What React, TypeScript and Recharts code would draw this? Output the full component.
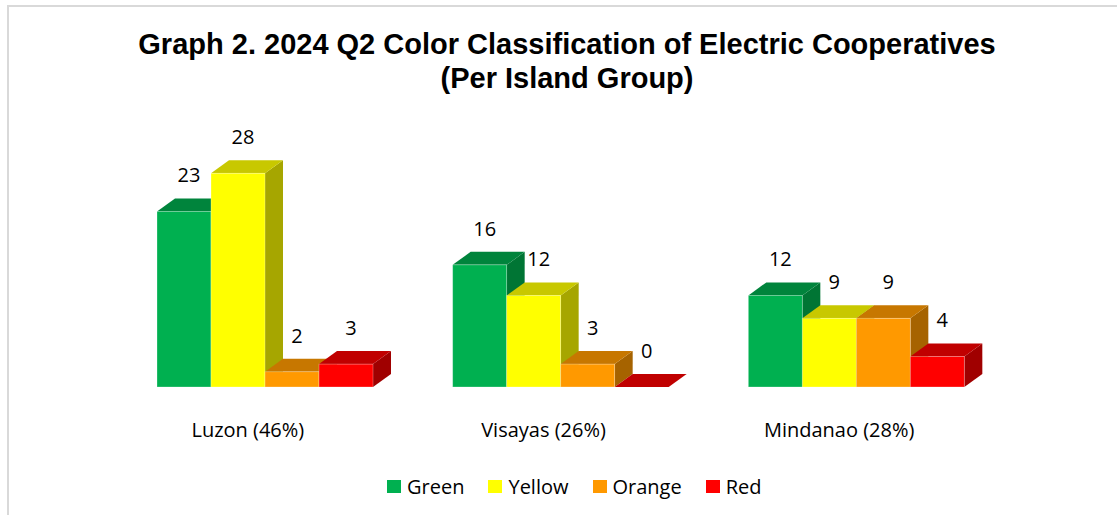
import React from 'react';
import { BarChart, Bar, XAxis, YAxis, LabelList } from 'recharts';

const islands = ['Luzon (46%)', 'Visayas (26%)', 'Mindanao (28%)'];
const green = [23, 16, 12];
const yellow = [28, 12, 9];
const orange = [2, 3, 9];
const red = [3, 0, 4];

const seriesNames = ['Green', 'Yellow', 'Orange', 'Red'];

const data = islands.map((name, i) => ({
  name,
  Green: green[i],
  Yellow: yellow[i],
  Orange: orange[i],
  Red: red[i],
}));

// front / top / side shades for the 3D look
const shades: Record<string, { front: string; top: string; side: string }> = {
  Green: { front: '#00B050', top: '#00843C', side: '#007534' },
  Yellow: { front: '#FFFF00', top: '#C8C800', side: '#A6A600' },
  Orange: { front: '#FF9900', top: '#C77700', side: '#A66300' },
  Red: { front: '#FF0000', top: '#C00000', side: '#A00000' },
};

const DX = 18;
const DY = 13;
const FONT = '"Open Sans", sans-serif';

const make3DBar = (key: string) => (props: any) => {
  const { x, y, width, height } = props;
  const c = shades[key];
  const h = Math.max(height || 0, 0);
  const top = `${x},${y} ${x + DX},${y - DY} ${x + width + DX},${y - DY} ${x + width},${y}`;
  const side = `${x + width},${y} ${x + width + DX},${y - DY} ${x + width + DX},${y + h - DY} ${x + width},${y + h}`;
  return (
    <g>
      {h > 0 && <polygon points={side} fill={c.side} />}
      <polygon points={top} fill={c.top} />
      {h > 0 && (
        <rect x={x} y={y} width={width} height={h} fill={c.front} stroke="rgba(255,255,255,0.35)" strokeWidth={0.8} />
      )}
    </g>
  );
};

const ValueLabel = (props: any) => {
  const { x, y, width, value } = props;
  return (
    <text x={x + width / 2 + 5} y={y - 29} textAnchor="middle" fontFamily={FONT} fontSize={20} fill="#000">
      {value}
    </text>
  );
};

const IslandTick = (props: any) => {
  const { x, y, payload } = props;
  return (
    <text x={x - 17} y={y + 50} textAnchor="middle" fontFamily={FONT} fontSize={20} fill="#000">
      {payload.value}
    </text>
  );
};

const LegendBox = () => (
  <div
    style={{
      position: 'absolute',
      left: 387,
      top: 473,
      display: 'flex',
      alignItems: 'center',
      fontFamily: FONT,
      fontSize: 20,
      color: '#000',
    }}
  >
    {seriesNames.map((n) => (
      <div key={n} style={{ display: 'flex', alignItems: 'center', marginRight: 24 }}>
        <span style={{ display: 'inline-block', width: 14, height: 13, background: shades[n].front, marginRight: 6 }} />
        <span>{n}</span>
      </div>
    ))}
  </div>
);

export default function App() {
  return (
    <div style={{ position: 'absolute', left: 0, top: 0, width: 1117, height: 515, background: '#fff', overflow: 'hidden' }}>
      <div style={{ position: 'absolute', left: 7, top: 5, right: 0, height: 2, background: '#d9d9d9' }} />
      <div style={{ position: 'absolute', left: 7, top: 5, bottom: 0, width: 2, background: '#d9d9d9' }} />
      <div
        style={{
          position: 'absolute',
          left: 0,
          top: 27,
          width: 1134,
          textAlign: 'center',
          fontFamily: '"Liberation Sans", Arial, sans-serif',
          fontWeight: 'bold',
          fontSize: 29,
          lineHeight: '34px',
          color: '#000',
        }}
      >
        <div>Graph 2. 2024 Q2 Color Classification of Electric Cooperatives</div>
        <div>(Per Island Group)</div>
      </div>
      <div style={{ position: 'absolute', left: 0, top: 0 }}>
        <BarChart
          width={1117}
          height={515}
          data={data}
          margin={{ top: 158, right: 113, bottom: 68, left: 117 }}
          barGap={0}
          barSize={54}
        >
          <YAxis hide domain={[0, 30]} width={0} />
          <XAxis
            dataKey="name"
            height={60}
            axisLine={false}
            tickLine={false}
            tickSize={0}
            tickMargin={0}
            tick={<IslandTick />}
            interval={0}
          />
          {seriesNames.map((n) => (
            <Bar key={n} dataKey={n} fill={shades[n].front} shape={make3DBar(n)} isAnimationActive={false}>
              <LabelList dataKey={n} content={<ValueLabel />} />
            </Bar>
          ))}
        </BarChart>
      </div>
      <LegendBox />
    </div>
  );
}
